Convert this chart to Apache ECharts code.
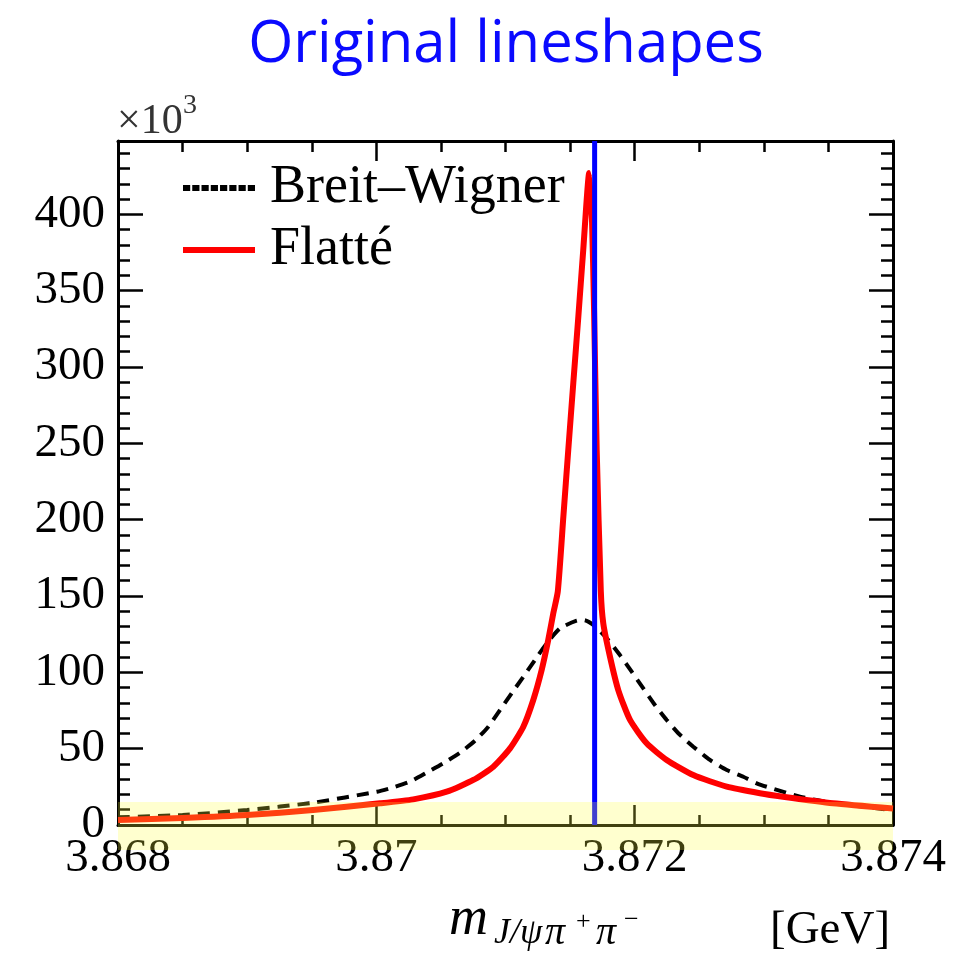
<!DOCTYPE html>
<html><head><meta charset="utf-8">
<script src="https://cdn.jsdelivr.net/npm/echarts@6/dist/echarts.min.js"></script>
<style>html,body{margin:0;padding:0;background:#fff}#c{width:954px;height:961px}</style>
</head><body><div id="c"></div>
<script>
const titleText = 'Original lineshapes';
const seriesNames = ['Breit–Wigner', 'Flatté'];
const xRange = [3.868, 3.874];
const yRange = [0, 448];
const xInterval = 0.002;
const yInterval = 50;
// Breit–Wigner (dashed black), values in units of 10^3
const bwX = [3.868, 3.8685, 3.869, 3.86951, 3.870005, 3.870106, 3.870261, 3.87039, 3.870518, 3.870648, 3.870764, 3.870867, 3.870957, 3.871048, 3.871138, 3.871228, 3.871319, 3.871422, 3.871551, 3.87161, 3.87168, 3.871784, 3.871886, 3.871977, 3.872067, 3.872157, 3.872248, 3.872338, 3.872454, 3.872583, 3.872713, 3.872841, 3.872945, 3.873024, 3.87328, 3.873535, 3.873953, 3.874];
const bwY = [5.0, 6.5, 9.8, 14.6, 21.8, 24.0, 28.4, 34.3, 40.4, 47.4, 55.2, 64.4, 75.3, 86.3, 97.1, 108.1, 119.0, 128.8, 133.8, 134.2, 131.0, 122.3, 111.3, 100.4, 89.5, 78.6, 68.8, 60.1, 51.3, 42.6, 36.0, 31.6, 27.3, 25.0, 18.6, 14.4, 10.2, 9.8];
// Flatté (solid red)
const flX = [3.868, 3.8685, 3.869, 3.86951, 3.870028, 3.870286, 3.870545, 3.870751, 3.870906, 3.871035, 3.871138, 3.871215, 3.87128, 3.871331, 3.87137, 3.871405, 3.871448, 3.871486, 3.871525, 3.871564, 3.871602, 3.871648, 3.87167, 3.871685, 3.871706, 3.871738, 3.871757, 3.871809, 3.871873, 3.871964, 3.872093, 3.872248, 3.872454, 3.872713, 3.87297, 3.873148, 3.873536, 3.874];
const flY = [3.2, 4.6, 6.5, 9.8, 14.2, 16.8, 21.8, 29.5, 38.2, 50.2, 64.4, 81.9, 101.5, 121.2, 138.7, 153, 202, 245.7, 289.6, 333, 376.8, 427, 395, 340, 245.7, 153, 132.1, 110.2, 88.4, 68.8, 53.5, 42.6, 32.7, 25.1, 20.8, 18.5, 14.2, 10.8];
// threshold marker (blue vertical line)
const thresholdMass = 3.87169;
// highlighted band (yellow overlay), y units
const bandY = [-16.4, 15.1];

const SERIF = '"Liberation Serif", "DejaVu Serif", serif';
const chart = echarts.init(document.getElementById('c'), null, {renderer: 'canvas'});

function zip(xs, ys) { return xs.map((x, i) => [x, ys[i]]); }
function fmtX(v) { return String(parseFloat(Number(v).toFixed(4))); }

// legend sample shapes
let dashPath = 'path://';
for (let i = 0; i < 8; i++) { dashPath += 'M' + (i * 9) + ',0h7v6h-7z '; }
const solidPath = 'path://M0,0h72v6h-72z';

const axisCommon = {
  type: 'value',
  axisLine: {show: true, onZero: false, lineStyle: {color: '#000', width: 3}},
  splitLine: {show: false},
};

const option = {
  animation: false,
  backgroundColor: '#fff',
  grid: {left: 118, right: 61, top: 141, bottom: 136, containLabel: false},
  legend: {
    data: [
      {name: seriesNames[0], icon: dashPath},
      {name: seriesNames[1], icon: solidPath},
    ],
    orient: 'vertical',
    left: 183, top: 161, padding: 0,
    itemWidth: 72, itemHeight: 6, itemGap: 8,
    symbolKeepAspect: false,
    textStyle: {fontFamily: SERIF, fontSize: 54, color: '#000', lineHeight: 54, padding: [0, 0, 0, 10]},
  },
  xAxis: [
    Object.assign({}, axisCommon, {
      position: 'bottom', min: xRange[0], max: xRange[1], interval: xInterval,
      axisTick: {show: true, inside: true, length: 20, lineStyle: {color: '#000', width: 2.5}},
      minorTick: {show: true, splitNumber: 4, length: 10, lineStyle: {color: '#000', width: 2.5}},
      axisLabel: {show: true, margin: 10, fontFamily: SERIF, fontSize: 47, color: '#000', formatter: fmtX},
    }),
    Object.assign({}, axisCommon, {
      position: 'top', min: xRange[0], max: xRange[1], interval: xInterval,
      axisTick: {show: true, inside: true, length: 20, lineStyle: {color: '#000', width: 2.5}},
      minorTick: {show: true, splitNumber: 4, length: 11, lineStyle: {color: '#000', width: 2.5}},
      axisLabel: {show: false},
    }),
  ],
  yAxis: [
    Object.assign({}, axisCommon, {
      position: 'left', min: yRange[0], max: yRange[1], interval: yInterval,
      axisTick: {show: true, inside: true, length: 25, lineStyle: {color: '#000', width: 2.5}},
      minorTick: {show: true, splitNumber: 5, length: 12, lineStyle: {color: '#000', width: 2.5}},
      axisLabel: {show: true, margin: 13, fontFamily: SERIF, fontSize: 47, color: '#000',
        formatter: v => (v > 400 ? '' : String(v))},
    }),
    Object.assign({}, axisCommon, {
      position: 'right', min: yRange[0], max: yRange[1], interval: yInterval,
      axisTick: {show: true, inside: true, length: 24, lineStyle: {color: '#000', width: 2.5}},
      minorTick: {show: true, splitNumber: 5, length: 12, lineStyle: {color: '#000', width: 2.5}},
      axisLabel: {show: false},
    }),
  ],
  series: [
    {
      name: seriesNames[0], type: 'line', xAxisIndex: 0, yAxisIndex: 0,
      data: zip(bwX, bwY), showSymbol: false, symbol: 'none', smooth: 0.2,
      lineStyle: {color: '#000', width: 4, type: [12, 8]}, itemStyle: {color: '#000'}, z: 3,
    },
    {
      name: seriesNames[1], type: 'line', xAxisIndex: 0, yAxisIndex: 0,
      data: zip(flX, flY), showSymbol: false, symbol: 'none', smooth: 0.2,
      lineStyle: {color: '#ff0000', width: 6, join: 'round'}, itemStyle: {color: '#ff0000'}, z: 4,
    },
    {
      name: 'threshold', type: 'line', xAxisIndex: 0, yAxisIndex: 0, z: 5, silent: true,
      data: [[thresholdMass, yRange[0]], [thresholdMass, yRange[1]]],
      showSymbol: false, symbol: 'none',
      lineStyle: {color: '#0000ff', width: 5, cap: 'butt'}, itemStyle: {color: '#0000ff'},
    },
  ],
};
chart.setOption(option);

function baseText(id, x, y, text, font, color, align) {
  return {id, type: 'text', x, y, z: 50,
    style: {text, font, fill: color || '#000', textAlign: align || 'left', textVerticalAlign: 'middle', verticalAlign: 'middle'}};
}

const p1 = chart.convertToPixel({xAxisIndex: 0, yAxisIndex: 0}, [xRange[0], bandY[1]]);
const p2 = chart.convertToPixel({xAxisIndex: 0, yAxisIndex: 0}, [xRange[1], bandY[0]]);

chart.setOption({
  graphic: [
    baseText('title', 506, 45, titleText, '58px "Open Sans", "Noto Sans", sans-serif', '#0a0aff', 'center'),
    baseText('mult', 117, 122, '×10', '42px ' + SERIF, '#333'),
    baseText('multexp', 183, 106, '3', '28px ' + SERIF, '#333'),
    baseText('m', 449, 920, 'm', 'italic 54px ' + SERIF, '#000'),
    baseText('sub1', 494, 934, 'J/ψ', 'italic 36px ' + SERIF, '#000'),
    baseText('sub2', 545, 933, 'π', 'italic 40px ' + SERIF, '#000'),
    baseText('sup1', 576, 922, '+', '26px ' + SERIF, '#000'),
    baseText('sub3', 596, 933, 'π', 'italic 40px ' + SERIF, '#000'),
    baseText('sup2', 624, 920, '−', '26px ' + SERIF, '#000'),
    baseText('unit', 770, 931, '[GeV]', '47px ' + SERIF, '#000'),
    {id: 'band', type: 'rect', z: 100, silent: true,
      shape: {x: p1[0], y: p1[1], width: p2[0] - p1[0], height: p2[1] - p1[1]},
      style: {fill: 'rgba(255,255,64,0.25)'}},
  ],
});
</script></body></html>
